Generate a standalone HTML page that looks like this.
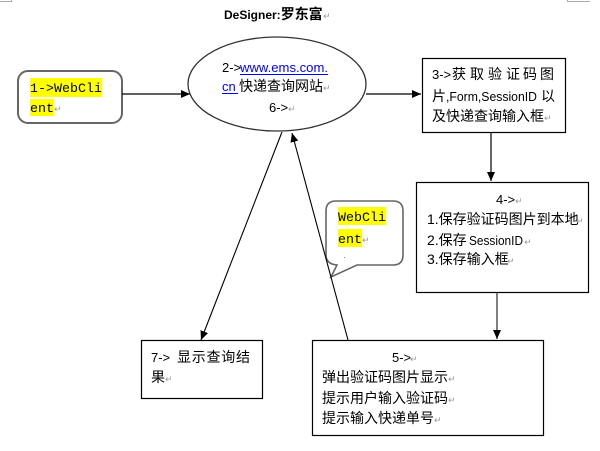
<!DOCTYPE html>
<html><head><meta charset="utf-8"><style>
html,body{margin:0;padding:0;background:#fff;}
svg{display:block;}
.l{font-family:"Liberation Sans","Noto Sans CJK SC",sans-serif;font-size:13px;fill:#000;}
.c{font-family:"Liberation Sans","Noto Sans CJK SC",sans-serif;font-size:14px;fill:#000;}
.m{font-family:"Liberation Mono","DejaVu Sans Mono",monospace;font-size:13.33px;fill:#000;}
.r{font-family:"DejaVu Sans",sans-serif;font-size:9px;fill:#999;}
</style></head><body>
<svg width="600" height="451" viewBox="0 0 600 451" xmlns="http://www.w3.org/2000/svg">
<defs>
<marker id="a" markerUnits="userSpaceOnUse" markerWidth="10" markerHeight="10" refX="9" refY="4" orient="auto">
<path d="M0,0 L9,4 L0,8 z" fill="#000"/>
</marker>
</defs>
<rect width="600" height="451" fill="#fff"/>
<!-- corner marks -->
<path d="M0,1.5 H11.5 V0" stroke="#aaa" fill="none" stroke-width="1"/>
<path d="M567.5,0 V1.5 H590" stroke="#aaa" fill="none" stroke-width="1"/>

<!-- title -->
<text x="224" y="19" font-family="Liberation Sans,sans-serif" font-size="12" font-weight="bold">DeSigner:<tspan font-family="Noto Sans CJK SC,sans-serif" font-size="14">罗东富</tspan></text>
<text x="323" y="19" class="r">↵</text>

<!-- box1 -->
<rect x="18" y="71" width="104" height="52" rx="10" ry="10" fill="#fff" stroke="#666" stroke-width="2"/>
<rect x="30" y="78" width="72" height="19" fill="#ffff00"/>
<rect x="30" y="99" width="24" height="17" fill="#ffff00"/>
<text x="30" y="92" class="m">1-&gt;WebCli</text>
<text x="30" y="112" class="m">ent</text>
<text x="54" y="112" class="r">↵</text>

<!-- arrow box1 -> ellipse -->
<line x1="122" y1="94" x2="190" y2="94" stroke="#000" stroke-width="1.2" marker-end="url(#a)"/>

<!-- ellipse -->
<ellipse cx="277" cy="84" rx="89" ry="47" fill="#fff" stroke="#333" stroke-width="1.3"/>
<text x="222" y="72" class="l">2-&gt;</text>
<text x="240" y="72" class="l" fill="#0000ff" style="fill:#0000ff" textLength="88" lengthAdjust="spacingAndGlyphs">www.ems.com.</text>
<line x1="240" y1="74.5" x2="328" y2="74.5" stroke="#0000ff" stroke-width="1"/>
<text x="222" y="91" class="l" style="fill:#0000ff">cn</text>
<line x1="222" y1="93.5" x2="238" y2="93.5" stroke="#0000ff" stroke-width="1"/>
<text x="239" y="91" class="c">快递查询网站</text>
<text x="323" y="91" class="r">↵</text>
<text x="269" y="112" class="l">6-&gt;</text>
<text x="288" y="112" class="r">↵</text>

<!-- arrow ellipse -> box3 -->
<line x1="366" y1="94" x2="421" y2="94" stroke="#000" stroke-width="1.2" marker-end="url(#a)"/>

<!-- box3 -->
<rect x="422.5" y="58.5" width="143" height="74" fill="#fff" stroke="#000" stroke-width="1.2"/>
<text x="432" y="79" class="l">3-&gt;</text>
<text y="79" class="c"><tspan x="452">获</tspan><tspan x="470">取</tspan><tspan x="488">验</tspan><tspan x="506">证</tspan><tspan x="523">码</tspan><tspan x="540">图</tspan></text>
<text x="432" y="101" class="c">片</text>
<text x="446" y="101" class="l" textLength="91" lengthAdjust="spacingAndGlyphs">,Form,SessionID</text>
<text x="541" y="101" class="c">以</text>
<text x="432" y="121" class="c">及快递查询输入框</text>
<text x="544" y="121" class="r">↵</text>

<!-- arrow box3 -> box4 -->
<line x1="491" y1="133" x2="491" y2="181" stroke="#000" stroke-width="1.2" marker-end="url(#a)"/>

<!-- box4 -->
<rect x="416.5" y="182.5" width="172" height="110" fill="#fff" stroke="#000" stroke-width="1.2"/>
<text x="496" y="204" class="l">4-&gt;</text>
<text x="515" y="204" class="r">↵</text>
<text x="427" y="224" class="c">1.保存验证码图片到本地</text>
<text x="576" y="224" class="r">↵</text>
<text x="427" y="245" class="c">2.保存</text>
<text x="469" y="245" class="l" textLength="54" lengthAdjust="spacingAndGlyphs">SessionID</text>
<text x="524" y="245" class="r">↵</text>
<text x="427" y="264" class="c">3.保存输入框</text>
<text x="507" y="264" class="r">↵</text>

<!-- arrow box4 -> box5 -->
<line x1="497" y1="293" x2="497" y2="339" stroke="#555" stroke-width="1.5" marker-end="url(#a)"/>

<!-- box7 -->
<rect x="141.5" y="340.5" width="121" height="58" fill="#fff" stroke="#000" stroke-width="1.2"/>
<text x="151" y="362" class="l">7-&gt;</text>
<text x="177" y="362" class="c" textLength="73" lengthAdjust="spacing">显示查询结</text>
<text x="151" y="382" class="c">果</text>
<text x="165" y="382" class="r">↵</text>

<!-- box5 -->
<rect x="312.5" y="340.5" width="231" height="95" fill="#fff" stroke="#000" stroke-width="1.2"/>
<text x="392" y="362" class="l">5-&gt;</text>
<text x="410" y="362" class="r">↵</text>
<text x="322" y="382" class="c">弹出验证码图片显示</text>
<text x="448" y="382" class="r">↵</text>
<text x="322" y="403" class="c">提示用户输入验证码</text>
<text x="448" y="403" class="r">↵</text>
<text x="322" y="423" class="c">提示输入快递单号</text>
<text x="434" y="423" class="r">↵</text>

<!-- callout -->
<path d="M336,201 H393 Q403,201 403,211 V255 Q403,265 393,265 H357 L331,277 L337,265 Q326,264 326,255 V211 Q326,201 336,201 Z" fill="#fff" stroke="#666" stroke-width="1.6"/>
<rect x="338" y="207" width="48" height="18" fill="#ffff00"/>
<rect x="338" y="229" width="24" height="18" fill="#ffff00"/>
<text x="338" y="221" class="m">WebCli</text>
<text x="338" y="243" class="m">ent</text>
<text x="362" y="243" class="r">↵</text>
<rect x="344" y="257" width="1" height="1" fill="#888"/>

<!-- ellipse -> box7 -->
<line x1="282" y1="132" x2="201" y2="340" stroke="#000" stroke-width="1.1" marker-end="url(#a)"/>
<!-- box5 -> ellipse -->
<line x1="348" y1="340" x2="292" y2="133" stroke="#000" stroke-width="1.1" marker-end="url(#a)"/>
</svg>
</body></html>
